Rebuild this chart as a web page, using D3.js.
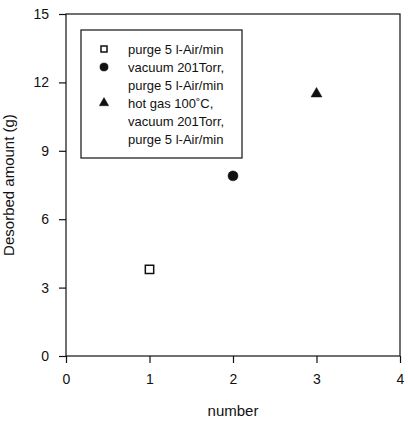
<!DOCTYPE html>
<html>
<head>
<meta charset="utf-8">
<script src="https://cdn.jsdelivr.net/npm/d3@7"></script>
<style>
  html, body { margin: 0; padding: 0; background: #fff; }
  svg { display: block; font-family: "Liberation Sans", Arial, sans-serif; }
</style>
</head>
<body>
<svg id="chart" width="408" height="422"></svg>
<script>
// Desorbed amount for each run
const runs = [1, 2, 3];
const desorbed = [3.8, 7.9, 11.5];
const markers = ["square", "circle", "triangle"];
const legendLines = [
  ["purge 5 l-Air/min"],
  ["vacuum 201Torr,", "purge 5 l-Air/min"],
  ["hot gas 100\u02DAC,", "vacuum 201Torr,", "purge 5 l-Air/min"]
];
const xTicks = [0, 1, 2, 3, 4];
const yTicks = [0, 3, 6, 9, 12, 15];
const xTitle = "number";
const yTitle = "Desorbed amount (g)";

const ink = "#111";
const svg = d3.select("#chart");

const plot = { left: 66, right: 400, top: 14, bottom: 356 };
const x = d3.scaleLinear().domain([0, 4]).range([plot.left, plot.right]);
const y = d3.scaleLinear().domain([0, 15]).range([plot.bottom, plot.top]);

const symbolType = {
  square: d3.symbolSquare,
  circle: d3.symbolCircle,
  triangle: d3.symbolTriangle
};
function drawMarker(sel, kind, area) {
  const path = d3.symbol().type(symbolType[kind]).size(area)();
  sel.append("path")
    .attr("d", path)
    .attr("fill", kind === "square" ? "#fff" : ink)
    .attr("stroke", ink)
    .attr("stroke-width", kind === "square" ? 1.5 : 0.5);
}

// Frame
svg.append("rect")
  .attr("x", plot.left).attr("y", plot.top)
  .attr("width", plot.right - plot.left)
  .attr("height", plot.bottom - plot.top)
  .attr("fill", "none").attr("stroke", ink).attr("stroke-width", 1.2);

// Axes
const xAxis = svg.append("g")
  .attr("transform", `translate(0,${plot.bottom})`)
  .call(d3.axisBottom(x).tickValues(xTicks).tickFormat(d3.format("d"))
    .tickSize(7).tickPadding(11));
const yAxis = svg.append("g")
  .attr("transform", `translate(${plot.left},0)`)
  .call(d3.axisLeft(y).tickValues(yTicks).tickFormat(d3.format("d"))
    .tickSize(7).tickPadding(10));
[xAxis, yAxis].forEach(g => {
  g.select(".domain").remove();
  g.selectAll(".tick line").attr("stroke", ink).attr("stroke-width", 1.2);
  g.selectAll(".tick text").attr("fill", ink).attr("font-size", 14)
    .attr("font-family", "Liberation Sans, Arial, sans-serif");
});

// Axis titles
svg.append("text")
  .attr("x", (plot.left + plot.right) / 2 - 0)
  .attr("y", 416)
  .attr("text-anchor", "middle")
  .attr("font-size", 15).attr("fill", ink)
  .text(xTitle);
svg.append("text")
  .attr("transform", "translate(14,185) rotate(-90)")
  .attr("text-anchor", "middle")
  .attr("font-size", 15).attr("fill", ink)
  .text(yTitle);

// Data points
runs.forEach((r, i) => {
  const g = svg.append("g")
    .attr("transform", `translate(${x(r)},${y(desorbed[i])})`);
  drawMarker(g, markers[i], markers[i] === "square" ? 70 : markers[i] === "circle" ? 78 : 52);
});

// Legend
const legend = svg.append("g");
legend.append("rect")
  .attr("x", 81).attr("y", 30).attr("width", 161).attr("height", 128)
  .attr("fill", "#fff").attr("stroke", ink).attr("stroke-width", 1.2);
let row = 0;
const rowStep = 18, firstRow = 49;
legendLines.forEach((lines, i) => {
  const cy = firstRow + row * rowStep;
  const g = legend.append("g").attr("transform", `translate(104,${cy})`);
  drawMarker(g, markers[i], markers[i] === "square" ? 36 : markers[i] === "circle" ? 52 : 38);
  lines.forEach((line, j) => {
    legend.append("text")
      .attr("x", 128)
      .attr("y", firstRow + (row + j) * rowStep)
      .attr("dy", "0.35em")
      .attr("font-size", 13).attr("fill", ink)
      .text(line);
  });
  row += lines.length;
});
</script>
</body>
</html>
